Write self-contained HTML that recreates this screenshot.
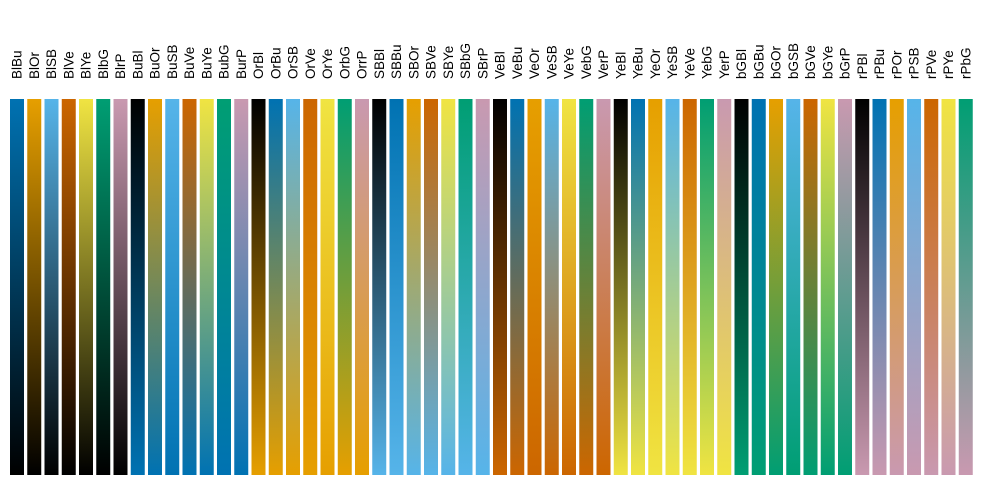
<!DOCTYPE html>
<html><head><meta charset="utf-8"><style>html,body{margin:0;padding:0;background:#fff}svg{display:block}</style></head>
<body>
<svg id="chart" width="1000" height="500" xmlns="http://www.w3.org/2000/svg"></svg>
<script>
const colorKeys = ["Bl","Bu","Or","SB","Ve","Ye","bG","rP"];
const colorHex = ["#000000","#0072B2","#E69F00","#56B4E9","#CC6600","#F0E442","#009E73","#C999B0"];
const svg = document.getElementById('chart');
const NS = "http://www.w3.org/2000/svg";
const x0 = 17, step = 17.25, bw = 14, yTop = 99, yBot = 475;
const defs = document.createElementNS(NS,'defs');
svg.appendChild(defs);
let i = 0;
colorKeys.forEach((a, ai) => {
  colorKeys.forEach((b, bi) => {
    if (ai === bi) return;
    const cx = x0 + i * step;
    const gid = 'g' + i;
    const lg = document.createElementNS(NS,'linearGradient');
    lg.setAttribute('id', gid); lg.setAttribute('x1','0'); lg.setAttribute('y1','0'); lg.setAttribute('x2','0'); lg.setAttribute('y2','1');
    const s1 = document.createElementNS(NS,'stop'); s1.setAttribute('offset','0'); s1.setAttribute('stop-color', colorHex[bi]);
    const s2 = document.createElementNS(NS,'stop'); s2.setAttribute('offset','1'); s2.setAttribute('stop-color', colorHex[ai]);
    lg.appendChild(s1); lg.appendChild(s2); defs.appendChild(lg);
    const r = document.createElementNS(NS,'rect');
    r.setAttribute('x', cx - bw/2); r.setAttribute('y', yTop); r.setAttribute('width', bw); r.setAttribute('height', yBot - yTop);
    r.setAttribute('fill', 'url(#' + gid + ')');
    
    
    svg.appendChild(r);
    const t = document.createElementNS(NS,'text');
    t.setAttribute('transform', 'translate(' + (cx + 4.5) + ',79) rotate(-90)');
    t.setAttribute('font-family', 'Liberation Sans, sans-serif');
    t.setAttribute('font-size', '13.5');
    t.setAttribute('fill', '#000');
    t.textContent = a + b;
    
    
    svg.appendChild(t);
    i++;
  });
});
</script>
</body></html>
